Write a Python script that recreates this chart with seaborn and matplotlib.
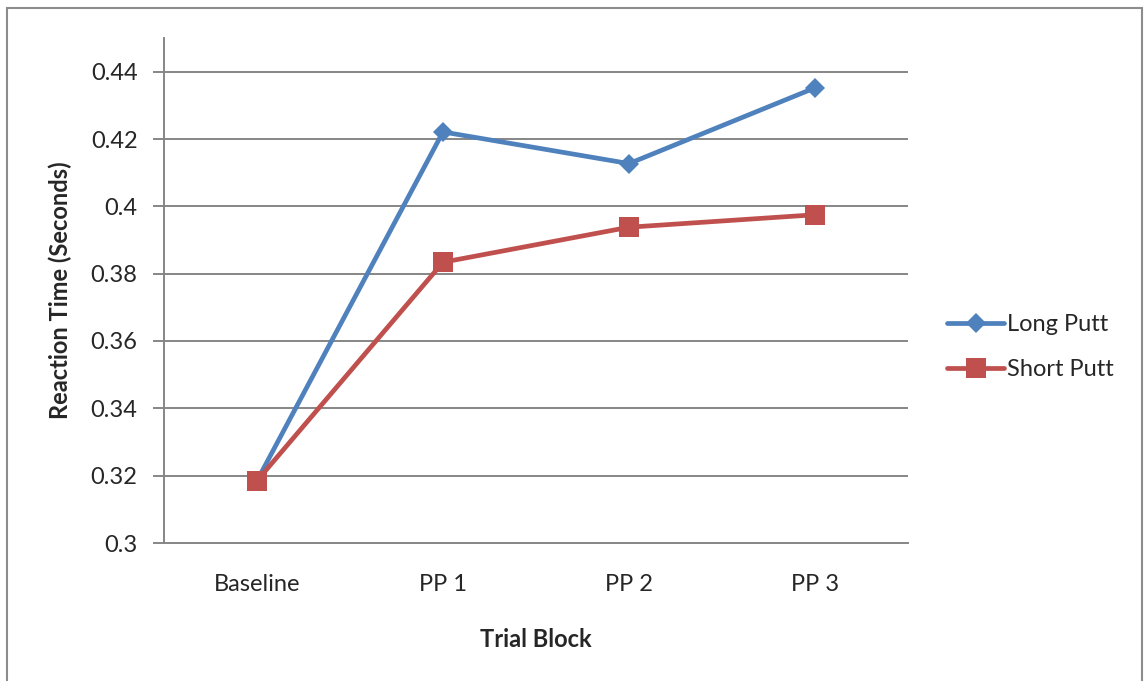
import matplotlib
matplotlib.use("Agg")
import matplotlib.pyplot as plt
from matplotlib.patches import Rectangle
from matplotlib.ticker import FuncFormatter
from matplotlib.lines import Line2D
import seaborn as sns
import pandas as pd

categories = ["Baseline", "PP 1", "PP 2", "PP 3"]
long_putt = [0.3185, 0.4221, 0.4127, 0.4352]
short_putt = [0.3185, 0.3834, 0.3938, 0.3975]
y_ticks = [0.30, 0.32, 0.34, 0.36, 0.38, 0.40, 0.42, 0.44]

df = pd.DataFrame({
    "Trial Block": categories * 2,
    "Reaction Time": long_putt + short_putt,
    "Series": ["Long Putt"] * 4 + ["Short Putt"] * 4,
})

sns.set_style("white")
plt.rcParams['font.family'] = ['Lato', 'DejaVu Sans']

FS = 17
fig = plt.figure(figsize=(11.44, 6.81), dpi=100)
ax = fig.add_axes([164/1144, 1-543/681, (908-164)/1144, (543-38)/681])

grid_c = "#868686"
for t in y_ticks[1:]:
    ax.axhline(t, color=grid_c, lw=1.4, zorder=0)

palette = {"Long Putt": "#4F81BD", "Short Putt": "#C0504D"}
markers = {"Long Putt": "D", "Short Putt": "s"}
sizes = [10, 14]
sns.lineplot(data=df, x="Trial Block", y="Reaction Time", hue="Series",
             style="Series", markers=markers, dashes=False, palette=palette,
             sort=False, lw=3.4, ax=ax, legend=False, zorder=3)
for line, ms in zip(ax.lines[-2:], sizes):
    line.set_markersize(ms)
    line.set_markeredgewidth(0)

ax.set_xlim(-0.5, 3.5)
ax.set_ylim(0.30, 0.45)
ax.set_yticks(y_ticks)
ax.yaxis.set_major_formatter(FuncFormatter(lambda v, p: f"{v:g}"))
ax.tick_params(axis="y", length=8, width=1.4, color=grid_c, labelsize=FS, pad=11, left=True)
ax.tick_params(axis="x", length=0, labelsize=FS, pad=22)
for s in ["top", "right"]:
    ax.spines[s].set_visible(False)
for s in ["left", "bottom"]:
    ax.spines[s].set_color(grid_c)
    ax.spines[s].set_linewidth(1.4)

ax.set_xlabel("Trial Block", fontsize=FS, fontweight="bold", labelpad=24)
ax.set_ylabel("Reaction Time (Seconds)", fontsize=FS, fontweight="bold", labelpad=13)

handles = [Line2D([], [], color=palette[k], lw=3.4, marker=markers[k],
                  markersize=ms, markeredgewidth=0)
           for k, ms in zip(["Long Putt", "Short Putt"], sizes)]
fig.legend(handles, ["Long Putt", "Short Putt"], loc="center left",
           bbox_to_anchor=(926/1144, 1-347/681), frameon=False, fontsize=FS,
           handlelength=2.4, handletextpad=0.15, labelspacing=1.0)

fig.patches.append(Rectangle((7/1144, -0.01), (1142-7)/1144, (681-8)/681 + 0.01,
                             transform=fig.transFigure, fill=False,
                             edgecolor="#8c8c8c", lw=1.5))

fig.savefig("out.png", dpi=100)
